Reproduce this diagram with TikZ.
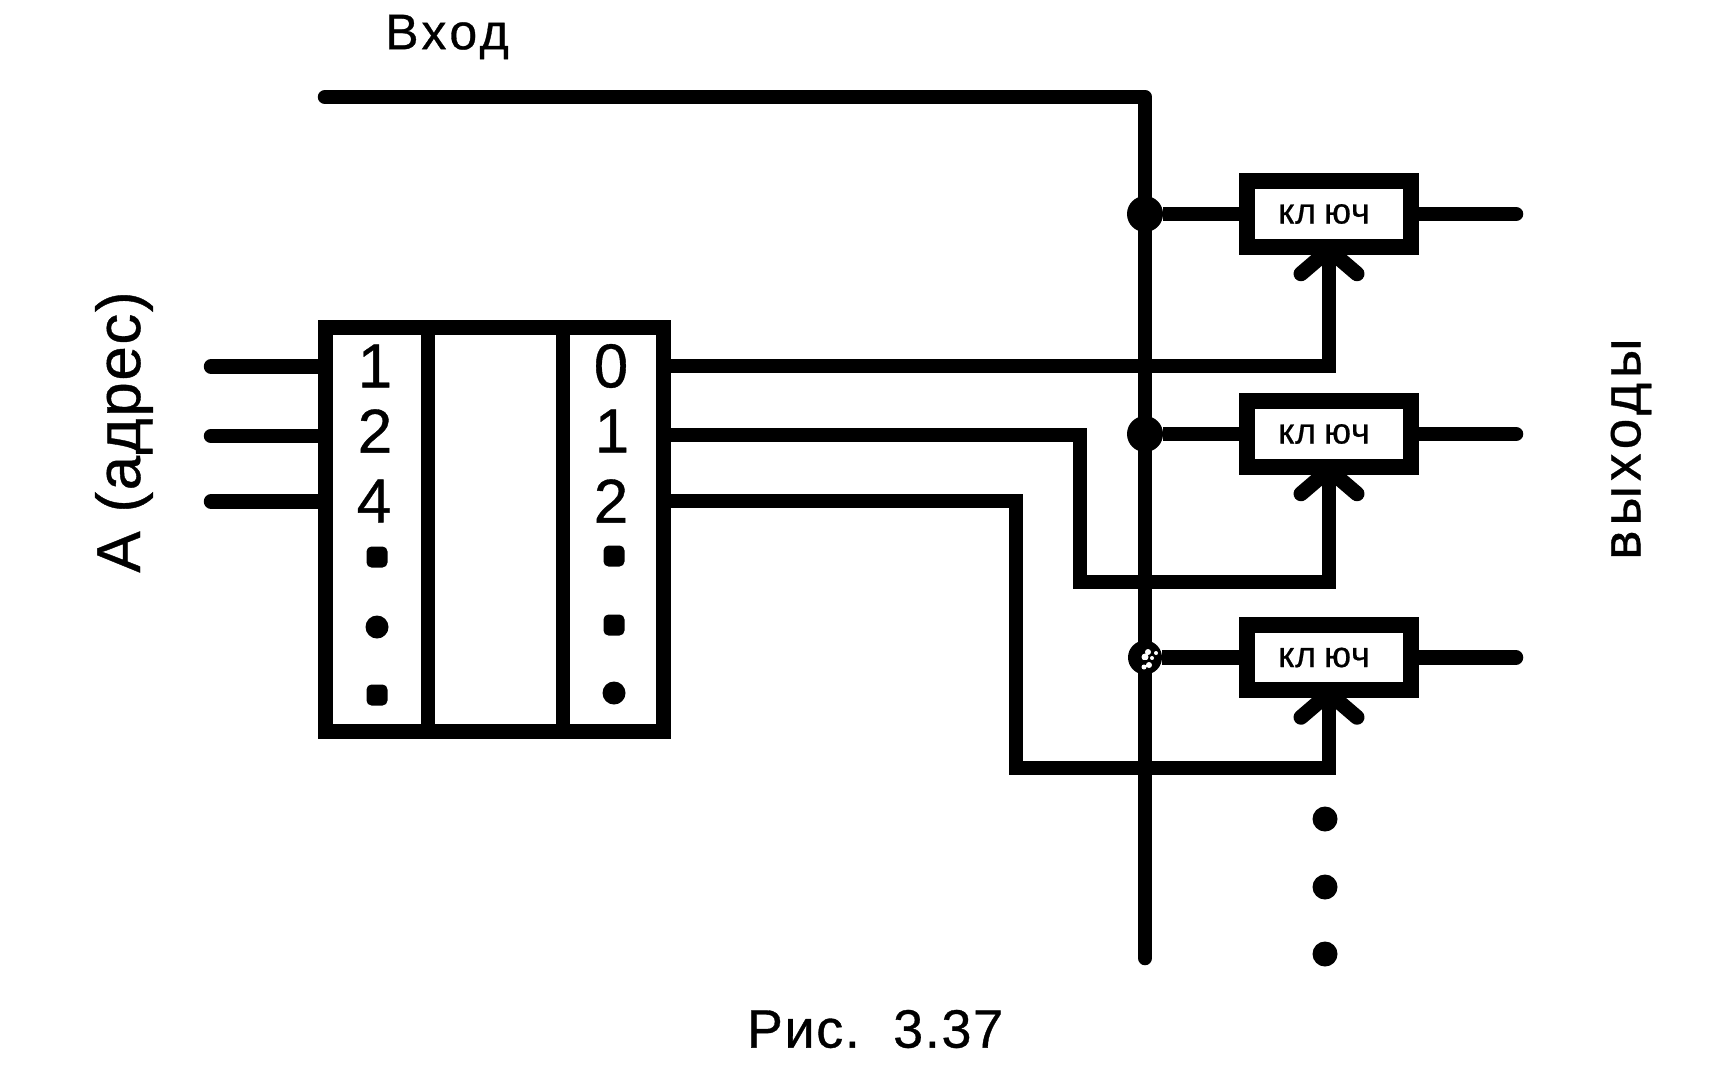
\documentclass[tikz,border=0pt]{standalone}
\usepackage{fontspec}
\setmainfont{Liberation Sans}
\begin{document}
\begin{tikzpicture}[x=1pt,y=-1pt,
  wire/.style={line width=14.5pt,line cap=round,line join=round},
  tail/.style={line width=14.5pt,line cap=round},
  edge/.style={line width=14.5pt,line cap=butt,line join=miter},
  frame/.style={draw,line width=15pt,fill=white,inner sep=0pt,outer sep=0pt,anchor=north west},
  keybox/.style={draw,line width=16pt,fill=white,inner sep=0pt,minimum width=163.5pt,minimum height=65.5pt,font=\fontsize{36}{36}\selectfont\addfontfeature{LetterSpace=2,FakeBold=0.6}},
  junction/.style={circle,fill=black,inner sep=0pt,minimum size=36pt},
  dotmark/.style={circle,fill=black,inner sep=0pt,minimum size=23pt},
  squaredot/.style={rectangle,rounded corners=5pt,fill=black,inner sep=0pt,minimum size=21pt},
  digit/.style={inner sep=0pt,font=\fontsize{62}{62}\selectfont\addfontfeature{FakeBold=0.6}}]
\useasboundingbox[fill=white] (0,0) rectangle (1723,1069);

% input line and bus
\coordinate (inL) at (325,97);
\coordinate (busTop) at (1145,97);
\coordinate (busBot) at (1145,958);
\draw[wire] (inL) -- (busTop) -- (busBot);

% junctions and keys
\node[junction] (j1) at (1145,214) {};
\node[junction] (j2) at (1145,434) {};
\node[junction,minimum size=34pt] (j3) at (1145,657.5) {};
\node[keybox] (k1) at (1329,214) {кл\kern8pt юч\kern10pt};
\node[keybox] (k2) at (1329,434) {кл\kern8pt юч\kern10pt};
\node[keybox] (k3) at (1329,657.5) {кл\kern8pt юч\kern10pt};
\coordinate (o1) at (1516,214);
\coordinate (o2) at (1516,434);
\coordinate (o3) at (1516,657.5);
\foreach \i in {1,2,3}{
  \draw[edge] (j\i) -- (k\i.west);
  \draw[tail] (k\i.east) ++(-2,0) -- (o\i);
}
% white flecks in the third junction
\fill[white] (1148,652) circle (3pt) (1156,653) circle (2pt) (1145,657) circle (3.5pt)
  (1149,665) circle (3pt) (1144,667) circle (2.5pt) (1152,658) circle (2pt);
\draw[line width=1.5pt] (1143,661) -- (1153,661);

% address decoder
\node[frame,minimum width=338.5pt,minimum height=404pt] (dec) at (325,327.5) {};
\coordinate (div1t) at (428,327.5);
\coordinate (div1b) at (428,731.5);
\coordinate (div2t) at (563,327.5);
\coordinate (div2b) at (563,731.5);
\draw[line width=14.5pt] (div1t) -- (div1b);
\draw[line width=14.5pt] (div2t) -- (div2b);

\coordinate (a1) at (211,366.5);
\coordinate (a2) at (211,436);
\coordinate (a4) at (211,501.5);
\coordinate (p1) at (325,366.5);
\coordinate (p2) at (325,436);
\coordinate (p4) at (325,501.5);
\draw[tail] (a1) -- (p1);
\draw[tail] (a2) -- (p2);
\draw[tail] (a4) -- (p4);

\node[digit] (d1) at (375,366) {1};
\node[digit] (d2) at (375,431) {2};
\node[digit] (d4) at (374,501) {4};
\node[digit] (q0) at (611,366) {0};
\node[digit] (q1) at (612,431) {1};
\node[digit] (q2) at (611,501) {2};
\node[squaredot] (ld1) at (377,557) {};
\node[dotmark] (ld2) at (377,627) {};
\node[squaredot] (ld3) at (377,695) {};
\node[squaredot] (rd1) at (614,556) {};
\node[squaredot] (rd2) at (614,625) {};
\node[dotmark] (rd3) at (614,693) {};

% control lines
\coordinate (s0) at (663,366);
\coordinate (s1) at (663,435);
\coordinate (s2) at (663,501);
\coordinate (b1a) at (1080,435);
\coordinate (b1b) at (1080,582);
\coordinate (b2a) at (1016,501);
\coordinate (b2b) at (1016,768);
\coordinate (c0) at (1329,366);
\coordinate (c1) at (1329,582);
\coordinate (c2) at (1329,768);
\draw[edge] (s0) -- (c0) -- (k1.south);
\draw[edge] (s1) -- (b1a) -- (b1b) -- (c1) -- (k2.south);
\draw[edge] (s2) -- (b2a) -- (b2b) -- (c2) -- (k3.south);
\foreach \k in {1,2,3}{
  \draw[line width=15pt,line cap=round,line join=miter]
    ([xshift=-28pt,yshift=-19pt]k\k.south) -- ([yshift=5pt]k\k.south) -- ([xshift=28pt,yshift=-19pt]k\k.south);
}

% trailing dots
\node[dotmark,minimum size=25pt] (td1) at (1325,819) {};
\node[dotmark,minimum size=25pt] (td2) at (1325,887) {};
\node[dotmark,minimum size=25pt] (td3) at (1325,954) {};

% labels
\node[inner sep=0pt,font=\fontsize{50}{50}\selectfont\addfontfeature{LetterSpace=7,FakeBold=0.6}] (lin) at (447,37) {Вход};
\node[inner sep=0pt,rotate=90,font=\fontsize{62}{62}\selectfont\addfontfeature{LetterSpace=2.5,FakeBold=0.6}] (laddr) at (124,432) {А (адрес)};
\node[inner sep=0pt,rotate=90,font=\fontsize{55}{55}\selectfont\addfontfeature{LetterSpace=9,FakeBold=0.6}] (lout) at (1631,449) {выходы};
\node[inner sep=0pt,font=\fontsize{54}{54}\selectfont\addfontfeature{LetterSpace=3,FakeBold=0.6}] (lcap) at (875,1029) {Рис.\ \ 3.37};
\end{tikzpicture}
\end{document}
